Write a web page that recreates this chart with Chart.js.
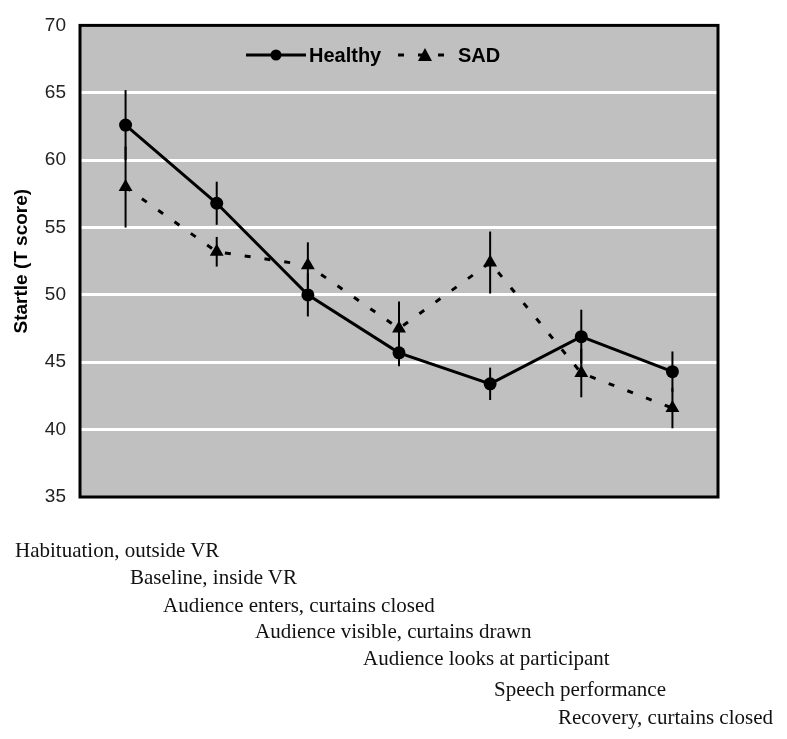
<!DOCTYPE html>
<html>
<head>
<meta charset="utf-8">
<script src="https://cdn.jsdelivr.net/npm/chart.js@4.4.0/dist/chart.umd.min.js"></script>
<style>
    html, body { margin: 0; padding: 0; background: #fff; }
    #wrap { position: relative; width: 787px; height: 739px; }
    #startleChart { position: absolute; left: 0; top: 0; }
    .phase {
        position: absolute;
        font-family: "Liberation Serif", "Times New Roman", serif;
        font-size: 21px;
        color: #111;
        white-space: nowrap;
        line-height: 1;
    }
</style>
</head>
<body>
<div id="wrap">
    <canvas id="startleChart" width="787" height="739"></canvas>
</div>
<script>
/* ============================================
   STARTLE (T SCORE) BY PHASE - HEALTHY vs SAD
   ============================================ */

const phases = [
    'Habituation, outside VR',
    'Baseline, inside VR',
    'Audience enters, curtains closed',
    'Audience visible, curtains drawn',
    'Audience looks at participant',
    'Speech performance',
    'Recovery, curtains closed'
];

const healthyMean = [62.6, 56.8, 50.0, 45.7, 43.4, 46.9, 44.3];
const healthyErr  = [2.6, 1.6, 1.6, 1.0, 1.2, 2.0, 1.5];

const sadMean = [58.0, 53.2, 52.2, 47.5, 52.4, 44.2, 41.6];
const sadErr  = [3.0, 1.1, 1.7, 2.0, 2.3, 1.8, 1.5];

const yTicks = [35, 40, 45, 50, 55, 60, 65, 70];

// staggered phase labels under the plot (left edge, text middle)
const phaseLeft = [15, 130, 163, 255, 363, 494, 558];
const phaseTop  = [551, 578, 606, 632, 659, 690, 718];

const FONT_SANS = '"Liberation Sans", Arial, sans-serif';

/**
 * Gray plot background + black frame
 */
const plotFrame = {
    id: 'plotFrame',
    beforeDraw(chart) {
        const { ctx, chartArea: a } = chart;
        ctx.save();
        ctx.fillStyle = '#c0c0c0';
        ctx.fillRect(a.left, a.top, a.right - a.left, a.bottom - a.top);
        ctx.restore();
    },
    afterDraw(chart) {
        const { ctx, chartArea: a } = chart;
        ctx.save();
        ctx.strokeStyle = '#000';
        ctx.lineWidth = 3;
        ctx.strokeRect(a.left, a.top, a.right - a.left, a.bottom - a.top);
        ctx.restore();
    }
};

/**
 * Vertical error bars, drawn from the data via the chart's scales
 */
const errorBars = {
    id: 'errorBars',
    beforeDatasetsDraw(chart) {
        const { ctx } = chart;
        const x = chart.scales.x;
        const y = chart.scales.y;
        ctx.save();
        ctx.strokeStyle = '#000';
        ctx.lineWidth = 2;
        chart.data.datasets.forEach(function(ds) {
            ds.data.forEach(function(v, i) {
                const px = x.getPixelForValue(i);
                ctx.beginPath();
                ctx.moveTo(px, y.getPixelForValue(v + ds.errors[i]));
                ctx.lineTo(px, y.getPixelForValue(v - ds.errors[i]));
                ctx.stroke();
            });
        });
        ctx.restore();
    }
};

/**
 * Legend inside the plot, line sample + marker + label
 */
const insideLegend = {
    id: 'insideLegend',
    afterDraw(chart) {
        const { ctx } = chart;
        const cy = 55;
        ctx.save();
        ctx.strokeStyle = '#000';
        ctx.fillStyle = '#000';
        ctx.lineWidth = 3;

        // Healthy
        ctx.beginPath();
        ctx.moveTo(246, cy);
        ctx.lineTo(306, cy);
        ctx.stroke();
        ctx.beginPath();
        ctx.arc(276, cy, 5.5, 0, Math.PI * 2);
        ctx.fill();

        // SAD
        ctx.setLineDash([6, 14]);
        ctx.beginPath();
        ctx.moveTo(398, cy);
        ctx.lineTo(453, cy);
        ctx.stroke();
        ctx.setLineDash([]);
        ctx.beginPath();
        ctx.moveTo(425, cy - 7);
        ctx.lineTo(432, cy + 6);
        ctx.lineTo(418, cy + 6);
        ctx.closePath();
        ctx.fill();

        ctx.font = 'bold 20px ' + FONT_SANS;
        ctx.textBaseline = 'middle';
        ctx.fillText(chart.data.datasets[0].label, 309, cy + 1);
        ctx.fillText(chart.data.datasets[1].label, 458, cy + 1);
        ctx.restore();
    }
};

document.addEventListener('DOMContentLoaded', function() {
    const ctx = document.getElementById('startleChart');

    new Chart(ctx, {
        type: 'line',
        data: {
            labels: phases,
            datasets: [{
                label: 'Healthy',
                data: healthyMean,
                errors: healthyErr,
                borderColor: '#000',
                backgroundColor: '#000',
                borderWidth: 3,
                pointStyle: 'circle',
                pointRadius: 6.5,
                pointBorderWidth: 0,
                tension: 0
            }, {
                label: 'SAD',
                data: sadMean,
                errors: sadErr,
                borderColor: '#000',
                backgroundColor: '#000',
                borderWidth: 3,
                borderDash: [6, 14],
                pointStyle: 'triangle',
                pointRadius: 8,
                pointBorderWidth: 0,
                tension: 0
            }]
        },
        options: {
            responsive: false,
            animation: false,
            layout: {
                padding: { left: 0, top: 17, right: 69, bottom: 242 }
            },
            plugins: {
                legend: { display: false },
                tooltip: { enabled: false }
            },
            scales: {
                x: {
                    type: 'category',
                    offset: true,
                    display: false
                },
                y: {
                    min: 35,
                    max: 70,
                    afterFit(scale) {
                        scale.width = 80;
                    },
                    afterBuildTicks(scale) {
                        scale.ticks = yTicks.map(v => ({ value: v }));
                    },
                    border: { display: false },
                    grid: {
                        color: '#ffffff',
                        lineWidth: 3,
                        drawTicks: false
                    },
                    ticks: {
                        color: '#222',
                        padding: 14,
                        font: { family: FONT_SANS, size: 19 }
                    },
                    title: {
                        display: true,
                        text: 'Startle (T score)',
                        color: '#000',
                        padding: { top: 10, bottom: 0 },
                        font: { family: FONT_SANS, size: 19, weight: 'bold' }
                    }
                }
            }
        },
        plugins: [plotFrame, errorBars, insideLegend]
    });

    // phase labels under the plot
    const wrap = document.getElementById('wrap');
    phases.forEach(function(name, i) {
        const el = document.createElement('div');
        el.className = 'phase';
        el.textContent = name;
        el.style.left = phaseLeft[i] + 'px';
        el.style.top = (phaseTop[i] - 11) + 'px';
        wrap.appendChild(el);
    });
});
</script>
</body>
</html>
